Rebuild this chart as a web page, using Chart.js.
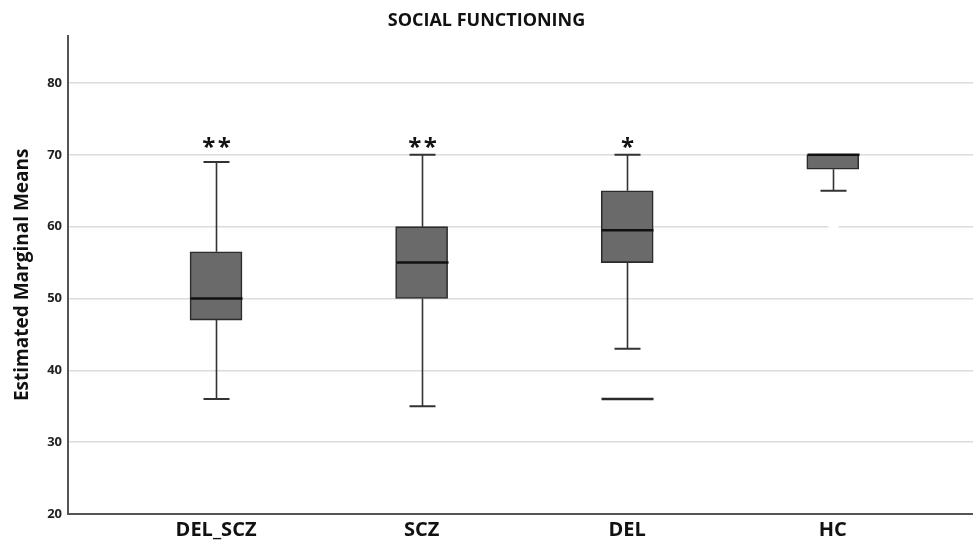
<!DOCTYPE html>
<html>
<head>
<meta charset="utf-8">
<script src="https://cdn.jsdelivr.net/npm/chart.js@4/dist/chart.umd.min.js"></script>
<style>
html,body{margin:0;padding:0;background:#fff;}
#wrap{width:973px;height:542px;}
</style>
</head>
<body>
<div id="wrap"><canvas id="c" width="973" height="542"></canvas></div>
<script>
// ---- data ----
const categories = ['DEL_SCZ', 'SCZ', 'DEL', 'HC'];
const whiskerLow = [36, 35, 43, 65];
const q1 = [47, 50, 55, 68];
const medians = [50, 55, 59.5, 70];
const q3 = [56.5, 60, 65, 70];
const whiskerHigh = [69, 70, 70, 70];
const outliers = [null, null, 36, 60];
const outlierColors = [null, null, '#2a2a2a', '#ffffff'];
const significance = ['**', '**', '*', ''];
const yTicks = [20, 30, 40, 50, 60, 70, 80];

const FONT = "'Open Sans', 'DejaVu Sans', sans-serif";
const STAR_LEVEL = 71.4;

const boxPlugin = {
  id: 'boxExtras',
  afterDatasetsDraw(chart) {
    const ctx = chart.ctx;
    const xs = chart.scales.x, ys = chart.scales.y;
    const boxW = 52, capW = 26;
    ctx.save();
    categories.forEach((c, i) => {
      const x = Math.round(xs.getPixelForValue(i)) + 0.5;
      // whiskers
      ctx.strokeStyle = '#333333';
      ctx.lineWidth = 1.6;
      ctx.beginPath();
      ctx.moveTo(x, ys.getPixelForValue(q3[i]));
      ctx.lineTo(x, ys.getPixelForValue(whiskerHigh[i]));
      ctx.moveTo(x, ys.getPixelForValue(q1[i]));
      ctx.lineTo(x, ys.getPixelForValue(whiskerLow[i]));
      ctx.stroke();
      // caps
      ctx.lineWidth = 2;
      ctx.beginPath();
      if (whiskerHigh[i] > q3[i]) {
        const yh = ys.getPixelForValue(whiskerHigh[i]);
        ctx.moveTo(x - capW / 2, yh); ctx.lineTo(x + capW / 2, yh);
      }
      if (whiskerLow[i] < q1[i]) {
        const yl = ys.getPixelForValue(whiskerLow[i]);
        ctx.moveTo(x - capW / 2, yl); ctx.lineTo(x + capW / 2, yl);
      }
      ctx.stroke();
      // median
      ctx.strokeStyle = '#111111';
      ctx.lineWidth = 2.5;
      ctx.beginPath();
      const ym = ys.getPixelForValue(medians[i]);
      ctx.moveTo(x - boxW / 2, ym); ctx.lineTo(x + boxW / 2, ym);
      ctx.stroke();
      // outliers
      if (outliers[i] !== null) {
        const yo = ys.getPixelForValue(outliers[i]);
        const w = outlierColors[i] === '#ffffff' ? 10 : boxW;
        ctx.strokeStyle = outlierColors[i];
        ctx.lineWidth = 2.5;
        ctx.beginPath();
        ctx.moveTo(x - w / 2, yo); ctx.lineTo(x + w / 2, yo);
        ctx.stroke();
      }
      // significance stars
      if (significance[i]) {
        ctx.fillStyle = '#111111';
        ctx.font = "bold 24px " + FONT;
        ctx.textAlign = 'center';
        ctx.textBaseline = 'middle';
        ctx.fillText(significance[i].split('').join('\u200A'), x, ys.getPixelForValue(STAR_LEVEL) + 3);
      }
    });
    ctx.restore();
  }
};

new Chart(document.getElementById('c'), {
  type: 'bar',
  data: {
    datasets: [{
      data: categories.map((c, i) => ({ x: i, y: [q1[i], q3[i]] })),
      backgroundColor: '#6a6a6a',
      borderColor: '#2b2b2b',
      borderWidth: 1.6,
      borderSkipped: false,
      barThickness: 52
    }]
  },
  options: {
    responsive: false,
    animation: false,
    layout: { padding: { left: 0, right: 0, top: 0, bottom: 0 } },
    plugins: {
      legend: { display: false },
      tooltip: { enabled: false },
      title: {
        display: true,
        text: 'SOCIAL FUNCTIONING',
        color: '#111',
        font: { family: FONT, size: 18, weight: 'bold' },
        padding: { top: 10, bottom: 4 }
      }
    },
    scales: {
      x: {
        type: 'linear',
        offset: false,
        min: -0.72,
        max: 3.682,
        afterBuildTicks(scale) { scale.ticks = categories.map((c, i) => ({ value: i })); },
        afterFit(scale) { scale.height = 28; },
        grid: { display: false, drawTicks: false, offset: false },
        border: { display: true, color: '#555', width: 2 },
        ticks: {
          padding: 4,
          color: '#111',
          font: { family: FONT, size: 20, weight: 'bold' },
          callback: (v) => categories[v] ?? ''
        }
      },
      y: {
        min: 20,
        max: 86.6,
        afterBuildTicks(scale) { scale.ticks = yTicks.map(v => ({ value: v })); },
        afterFit(scale) { scale.width = 68; },
        grid: {
          color: (ctx) => ctx.tick && ctx.tick.value === 20 ? 'rgba(0,0,0,0)' : '#dcdcdc',
          lineWidth: 1.5,
          drawTicks: false
        },
        border: { display: true, color: '#555', width: 2 },
        ticks: {
          padding: 6,
          color: '#222',
          font: { family: FONT, size: 13, weight: 'bold' }
        },
        title: {
          display: true,
          text: 'Estimated Marginal Means',
          color: '#111',
          font: { family: FONT, size: 19, weight: 'bold' },
          padding: { top: 11, bottom: 0 }
        }
      }
    }
  },
  plugins: [boxPlugin]
});
</script>
</body>
</html>
